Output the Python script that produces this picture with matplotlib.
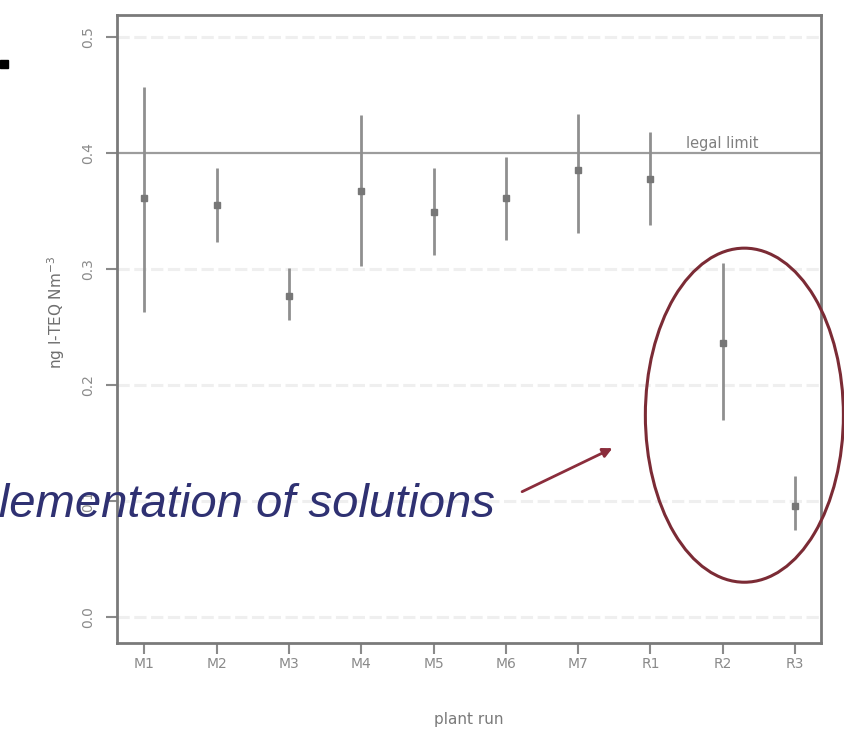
import matplotlib
matplotlib.use("Agg")
import matplotlib.pyplot as plt
from matplotlib.patches import Ellipse, Rectangle, FancyArrowPatch
import numpy as np

runs = ["M1", "M2", "M3", "M4", "M5", "M6", "M7", "R1", "R2", "R3"]
means = [0.361, 0.355, 0.277, 0.367, 0.349, 0.361, 0.385, 0.378, 0.236, 0.096]
upper = [0.457, 0.387, 0.301, 0.433, 0.387, 0.397, 0.434, 0.418, 0.305, 0.122]
lower = [0.263, 0.323, 0.256, 0.303, 0.312, 0.325, 0.331, 0.338, 0.170, 0.075]
yticks = [0.0, 0.1, 0.2, 0.3, 0.4, 0.5]
legal_limit = 0.4

W, H = 845, 741
fig = plt.figure(figsize=(W / 100, H / 100), dpi=100)
ax = fig.add_axes([117 / W, (H - 643) / H, (821 - 117) / W, (643 - 15) / H])

x = np.arange(1, len(runs) + 1)
means_a = np.array(means)
yerr = [means_a - np.array(lower), np.array(upper) - means_a]

# faint grid lines
for yv in yticks:
    if yv != legal_limit:
        ax.axhline(yv, color="#efefef", lw=2.2, ls=(0, (4, 1.5)), zorder=0)
ax.axhline(legal_limit, color="#9c9c9c", lw=1.6, zorder=1)
ax.text(9, legal_limit + 0.002, "legal limit", ha="center", va="bottom",
        fontsize=10.5, color="#808080")

ax.errorbar(x, means, yerr=yerr, fmt="s", color="#8a8a8a", ecolor="#8f8f8f",
            elinewidth=2, capsize=0, markersize=5, mfc="#777777", mec="#777777",
            zorder=3)

ax.set_xlim(0.62, 10.36)
ax.set_ylim(-0.0224, 0.519)
ax.set_xticks(x)
ax.set_xticklabels(runs)
ax.set_yticks(yticks)
ax.set_yticklabels([f"{v:.1f}" for v in yticks], rotation=90, va="center")
ax.tick_params(axis="both", colors="#8a8a8a", labelcolor="#8a8a8a",
               length=8, width=1.5, labelsize=10)
ax.tick_params(axis="y", pad=8)
ax.tick_params(axis="x", pad=2)
for s in ax.spines.values():
    s.set_color("#7a7a7a")
    s.set_linewidth(2)

ax.set_ylabel("ng I-TEQ Nm$^{-3}$", fontsize=11, color="#6f6f6f")
ax.yaxis.set_label_coords(-0.071, 0.527)
ax.set_xlabel("plant run", fontsize=11, color="#7a7a7a")
ax.xaxis.set_label_coords(0.50, -0.11)

# annotation ellipse and arrow
ell = Ellipse((9.30, 0.174), 2.74, 0.288, fill=False, edgecolor="#7b2b35",
              lw=2.2, clip_on=False, zorder=4)
ax.add_patch(ell)
arr = FancyArrowPatch((6.19, 0.107), (7.51, 0.1466), arrowstyle="-|>",
                      mutation_scale=14, color="#8b2d3c", lw=2, clip_on=False,
                      zorder=4)
ax.add_patch(arr)

fig.text(495 / W, (H - 517) / H, "Implementation of solutions", ha="right",
         va="baseline", fontsize=34, style="italic", family="Liberation Sans",
         color="#2f3172")

fig.patches.append(Rectangle((0, (H - 68) / H), 8 / W, 8 / H,
                             transform=fig.transFigure, color="black"))

fig.savefig("out.png", dpi=100)
